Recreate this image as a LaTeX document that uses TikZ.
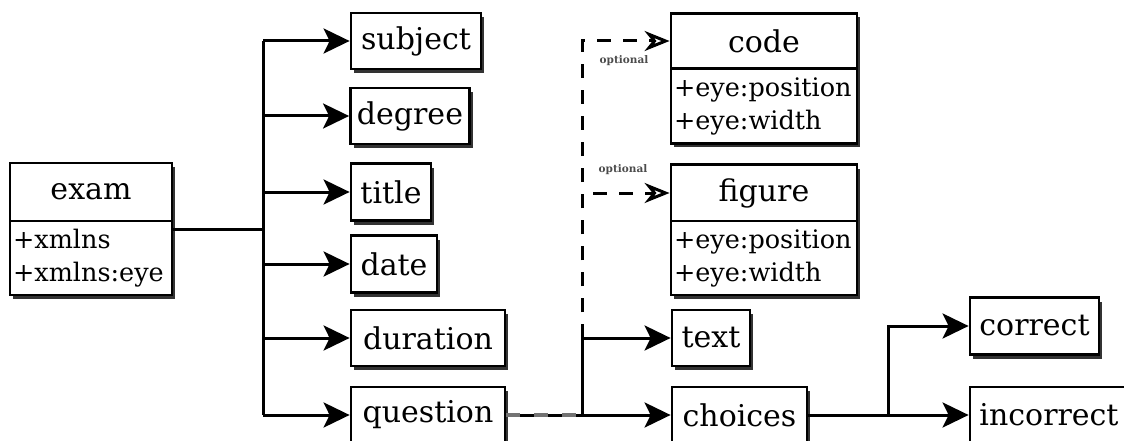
\documentclass[tikz,border=0pt]{standalone}
\usepackage{fontspec}
\setmainfont{DejaVu Serif}
\usetikzlibrary{arrows.meta,shadows}
\newcommand\titlesize{\fontsize{30}{34}\selectfont}
\newcommand\attrsize{\fontsize{25.5}{33}\selectfont}
\newcommand\tagsize{\fontsize{10.5}{12}\selectfont\bfseries}

\begin{document}
\begin{tikzpicture}[x=1pt,y=-1pt,
  box/.style={draw, line width=2.8pt, fill=white, inner sep=0pt, font=\titlesize,
    drop shadow={shadow xshift=3pt, shadow yshift=-4pt, fill=black!80, opacity=1}},
  attrbox/.style={box, font=\attrsize, align=left, inner xsep=3pt},
  conn/.style={line width=3pt},
  arr/.style={conn, -{Stealth[length=26pt,width=25pt,inset=6pt]}},
  darr/.style={conn, dash pattern=on 14pt off 12pt, -{Stealth[open,length=25pt,width=20pt,inset=8pt]}},
  tag/.style={font=\tagsize, text=black!70, inner sep=0pt},
]
\useasboundingbox (0,0) rectangle (1124,441);

% root element with its attributes
\node[box, minimum width=162pt, minimum height=58pt] (exam) at (91,192) {exam};
\node[attrbox, minimum width=162pt, text width=156pt, minimum height=74pt] (examattr) at (91,258) {+xmlns\\+xmlns:eye};

% children of exam
\node[box, minimum width=130pt, minimum height=56pt] (subject)  at (416,41)  {subject};
\node[box, minimum width=119pt, minimum height=56pt] (degree)   at (410,116) {degree};
\node[box, minimum width=80pt,  minimum height=57pt] (title)    at (391,192) {title};
\node[box, minimum width=86pt,  minimum height=57pt] (date)     at (394,264) {date};
\node[box, minimum width=154pt, minimum height=56pt] (duration) at (428,338) {duration};
\node[box, minimum width=154pt, minimum height=56pt] (question) at (428,415) {question};

% children of question
\node[box, minimum width=186pt, minimum height=55pt] (code) at (764,41) {code};
\node[attrbox, minimum width=186pt, text width=180pt, minimum height=75pt] (codeattr) at (764,106) {+eye:position\\+eye:width};
\node[box, minimum width=186pt, minimum height=57pt] (figure) at (764,193) {figure};
\node[attrbox, minimum width=186pt, text width=180pt, minimum height=74pt] (figattr) at (764,258) {+eye:position\\+eye:width};
\node[box, minimum width=78pt,  minimum height=56pt] (text)    at (711,338) {text};
\node[box, minimum width=135pt, minimum height=56pt] (choices) at (739.5,415) {choices};

% children of choices
\node[box, minimum width=129pt, minimum height=57pt] (correct)   at (1034.5,326) {correct};
\node[box, minimum width=158pt, minimum height=56pt] (incorrect) at (1049,415) {incorrect};

% exam -> children
\coordinate (j0) at (263,229);
\coordinate (ttop) at (263,41);
\coordinate (tbot) at (263,415);
\draw[conn] (examattr.east |- j0) -- (j0);
\draw[conn] (ttop) -- (tbot);
\draw[arr] (ttop) -- (subject.west);
\draw[arr] (ttop |- degree.west) -- (degree.west);
\draw[arr] (ttop |- title.west) -- (title.west);
\draw[arr] (ttop |- date.west) -- (date.west);
\draw[arr] (ttop |- duration.west) -- (duration.west);
\draw[arr] (tbot) -- (question.west);

% question -> children
\coordinate (qj) at (582,415);
\coordinate (qt) at (582,338);
\draw[conn] (question.east) -- (qj);
\draw[black!55, line width=4.5pt, dash pattern=on 14pt off 14pt] (question.east) -- (qj);
\draw[arr] (qj) -- (choices.west);
\draw[arr] (qj) |- (text.west);
\draw[darr] (qt) |- (code.west);
\draw[darr] (qt) |- (figure.west);
\node[tag] (tag1) at (624,61) {optional};
\node[tag] (tag2) at (623,170) {optional};

% choices -> children
\coordinate (cj) at (888,415);
\draw[conn] (choices.east) -- (cj);
\draw[arr] (cj) -- (incorrect.west);
\draw[arr] (cj) |- (correct.west);
\end{tikzpicture}
\end{document}
